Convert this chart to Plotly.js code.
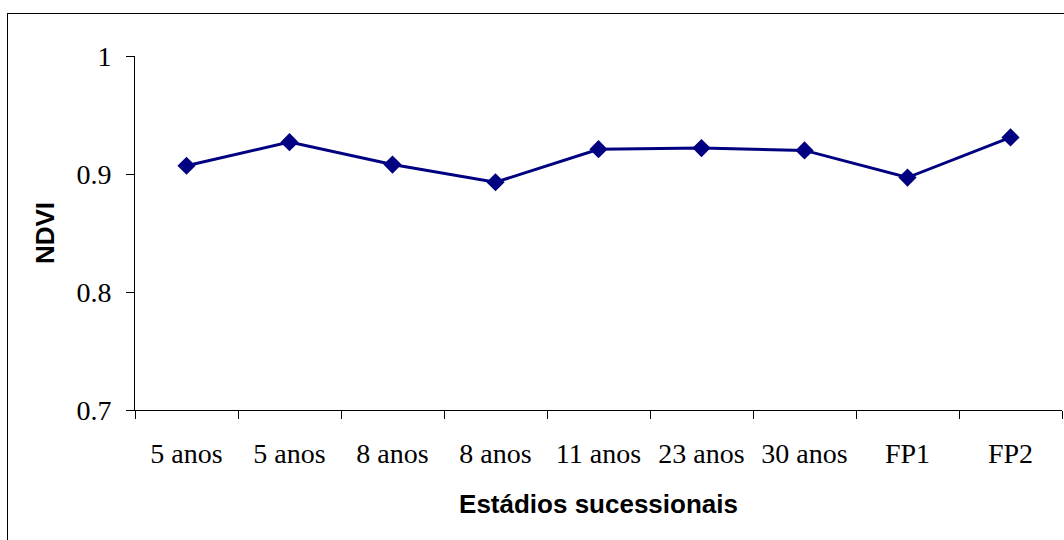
<!DOCTYPE html>
<html>
<head>
<meta charset="utf-8">
<script src="https://cdn.plot.ly/plotly-3.0.1.min.js"></script>
<style>
  html, body { margin: 0; padding: 0; background: #fff; overflow: hidden; }
  #chart { width: 1064px; height: 540px; }
  #frame { position: absolute; left: 7px; top: 13px; width: 1100px; height: 600px;
           border: 1px solid #000; pointer-events: none; }
</style>
</head>
<body>
<div id="chart"></div>
<div id="frame"></div>
<script>
const categories = ["5 anos", "5 anos", "8 anos", "8 anos", "11 anos", "23 anos", "30 anos", "FP1", "FP2"];
const ndvi = [0.907, 0.927, 0.908, 0.893, 0.921, 0.922, 0.920, 0.897, 0.931];
const yTicks = [0.7, 0.8, 0.9, 1];
const yTickText = ["0.7", "0.8", "0.9", "1"];

const idx = categories.map((_, i) => i);
const boundaries = categories.map((_, i) => i - 0.5).concat([categories.length - 0.5]);

const trace = {
  x: idx, y: ndvi, type: "scatter", mode: "lines+markers",
  line: { color: "#000080", width: 3 },
  marker: { symbol: "diamond", size: 14, color: "#000080" },
  hoverinfo: "skip"
};

const serif = "Liberation Serif, Times New Roman, serif";
const sans = "Liberation Sans, Arial, sans-serif";

const layout = {
  width: 1064, height: 540,
  margin: { l: 135, r: 2, t: 56, b: 130 },
  paper_bgcolor: "#fff", plot_bgcolor: "#fff",
  showlegend: false,
  xaxis: {
    range: [-0.5, categories.length - 0.5],
    tickmode: "array", tickvals: boundaries, ticktext: boundaries.map(() => ""),
    ticks: "outside", ticklen: 8, tickcolor: "#000", tickwidth: 1,
    showline: true, linecolor: "#000", linewidth: 1,
    showgrid: false, zeroline: false, fixedrange: true
  },
  xaxis2: {
    overlaying: "x", side: "bottom", anchor: "y",
    range: [-0.5, categories.length - 0.5],
    tickmode: "array", tickvals: idx, ticktext: categories,
    ticks: "", showline: false, showgrid: false, zeroline: false,
    ticklabelstandoff: 24,
    tickfont: { family: serif, size: 28, color: "#000" },
    title: { text: "Estádios sucessionais", font: { family: sans, size: 26, color: "#000", weight: "bold" }, standoff: 26 },
    fixedrange: true
  },
  yaxis: {
    range: [0.7, 1],
    tickmode: "array", tickvals: yTicks, ticktext: yTickText,
    ticks: "outside", ticklen: 8, tickcolor: "#000", tickwidth: 1,
    showline: true, linecolor: "#000", linewidth: 1,
    showgrid: false, zeroline: false,
    ticklabelstandoff: 9,
    tickfont: { family: serif, size: 28, color: "#000" },
    title: { text: "NDVI", font: { family: sans, size: 26, color: "#000", weight: "bold" }, standoff: 14 },
    fixedrange: true
  }
};

const labelTrace = { x: idx, y: ndvi, xaxis: "x2", yaxis: "y", type: "scatter", mode: "none", hoverinfo: "skip", showlegend: false };

Plotly.newPlot("chart", [trace, labelTrace], layout, { staticPlot: true });
</script>
</body>
</html>
